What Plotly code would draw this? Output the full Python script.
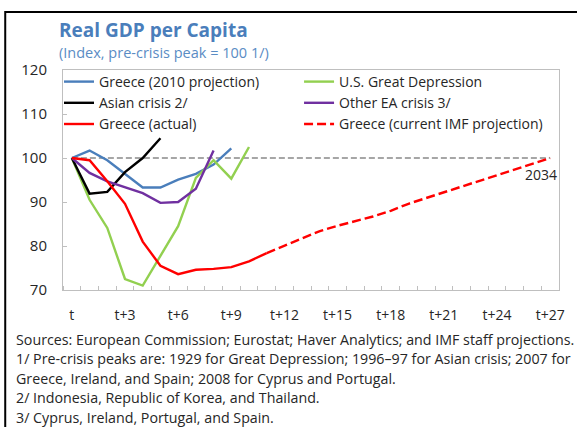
import plotly.graph_objects as go

# ---------------- data ----------------
periods = list(range(28))  # t .. t+27
tick_positions = [0, 3, 6, 9, 12, 15, 18, 21, 24, 27]
tick_labels = ["t", "t+3", "t+6", "t+9", "t+12", "t+15", "t+18", "t+21", "t+24", "t+27"]
y_ticks = [70, 80, 90, 100, 110, 120]

greece_2010 = [100, 101.7, 99.5, 96.4, 93.3, 93.3, 95.1, 96.4, 98.5, 102.2]
us_depression = [100, 90.5, 84.1, 72.5, 71.0, 77.6, 84.5, 95.5, 99.5, 95.3, 102.5]
asian_crisis = [100, 91.9, 92.3, 96.8, 100.0, 104.5]
other_ea = [100, 96.6, 94.7, 93.3, 92.0, 89.8, 90.0, 93.0, 101.7]
greece_actual = [100, 99.5, 94.7, 89.6, 81.0, 75.5, 73.6, 74.6, 74.8, 75.2, 76.5, 78.4]
greece_proj_start = 11
greece_projection = [78.4, 80.1, 81.8, 83.4, 84.6, 85.6, 86.7, 88.0, 89.6, 90.9,
                     92.2, 93.5, 94.8, 96.1, 97.4, 98.7, 100.0]
peak_level = 100
peak_line = [peak_level for _ in periods]

title_text = "Real GDP per Capita"
subtitle_text = "(Index, pre-crisis peak = 100 1/)"
end_label = "2034"
footnotes = [
    "Sources: European Commission; Eurostat; Haver Analytics; and IMF staff projections.",
    "1/ Pre-crisis peaks are: 1929 for Great Depression; 1996\u201397 for Asian crisis; 2007 for",
    "Greece, Ireland, and Spain; 2008 for Cyprus and Portugal.",
    "2/ Indonesia, Republic of Korea, and Thailand.",
    "3/ Cyprus, Ireland, Portugal, and Spain.",
]

# ---------------- figure ----------------
W, H = 577, 427
ML, MR, MT, MB = 63, 16, 70, 137
PW, PH = W - ML - MR, H - MT - MB
FONT = "Open Sans"
TXT = "#262626"


def px_x(px):
    return (px - ML) / PW


def px_y(py):
    return (H - MB - py) / PH


fig = go.Figure()

fig.add_trace(go.Scatter(x=periods, y=peak_line, mode="lines", showlegend=False,
                         line=dict(color="#A6A6A6", width=1.8, dash="6px,3px"),
                         hoverinfo="skip"))

series = [
    ("Greece (2010 projection)", periods[:len(greece_2010)], greece_2010, "#4A7EBB", "solid", "legend"),
    ("U.S. Great Depression", periods[:len(us_depression)], us_depression, "#92D050", "solid", "legend2"),
    ("Asian crisis 2/", periods[:len(asian_crisis)], asian_crisis, "#000000", "solid", "legend"),
    ("Other EA crisis 3/", periods[:len(other_ea)], other_ea, "#7030A0", "solid", "legend2"),
    ("Greece (actual)", periods[:len(greece_actual)], greece_actual, "#FF0000", "solid", "legend"),
    ("Greece (current IMF projection)",
     periods[greece_proj_start:greece_proj_start + len(greece_projection)],
     greece_projection, "#FF0000", "9px,4px", "legend2"),
]
for name, xs, ys, color, dash, leg in series:
    fig.add_trace(go.Scatter(x=xs, y=ys, mode="lines", name=name, legend=leg,
                             line=dict(color=color, width=2.4, dash=dash)))

legend_style = dict(orientation="v", yanchor="top", xanchor="left",
                    font=dict(family=FONT, size=14, color=TXT),
                    bgcolor="rgba(0,0,0,0)", borderwidth=0, itemwidth=30,
                    tracegroupgap=0)

fig.update_layout(
    width=W, height=H,
    margin=dict(l=ML, r=MR, t=MT, b=MB, pad=0),
    paper_bgcolor="white", plot_bgcolor="white",
    font=dict(family=FONT, size=14, color=TXT),
    showlegend=True,
    legend=dict(x=px_x(59), y=px_y(66), **legend_style),
    legend2=dict(x=px_x(300), y=px_y(66), **legend_style),
    xaxis=dict(range=[-0.5, 27.5], tickmode="array", tickvals=tick_positions,
               ticktext=tick_labels, ticks="", showgrid=False, zeroline=False,
               showline=True, linecolor="#BFBFBF", linewidth=1, mirror=True,
               tickfont=dict(family=FONT, size=14, color=TXT), ticklabelstandoff=12,
               minor=dict(tickmode="linear", tick0=0.5, dtick=1, ticks="inside",
                          ticklen=4, tickcolor="#BFBFBF", showgrid=False)),
    yaxis=dict(range=[70, 120], tickmode="array", tickvals=y_ticks,
               ticks="inside", ticklen=4, tickcolor="#BFBFBF", showgrid=False,
               zeroline=False, showline=True, linecolor="#BFBFBF", linewidth=1,
               mirror=True, tickfont=dict(family=FONT, size=15, color=TXT),
               ticklabelstandoff=12),
)

# outer frame
fig.add_shape(type="rect", xref="paper", yref="paper",
              x0=px_x(5), x1=px_x(590), y0=px_y(460), y1=px_y(12),
              line=dict(color="#000000", width=2), layer="below")

annotations = [
    dict(text="<b>" + title_text + "</b>", x=px_x(57), y=px_y(30), xanchor="left",
         yanchor="middle", font=dict(family=FONT, size=19, color="#4A7EBB")),
    dict(text=subtitle_text, x=px_x(57), y=px_y(53), xanchor="left",
         yanchor="middle", font=dict(family=FONT, size=14.5, color="#5A8CC4")),
]
foot_y = [339, 358.5, 378, 397.5, 417]
for line, yy in zip(footnotes, foot_y):
    annotations.append(dict(text=line, x=px_x(14), y=px_y(yy), xanchor="left",
                            yanchor="middle", font=dict(family=FONT, size=14.25, color=TXT)))
for a in annotations:
    a.update(xref="paper", yref="paper", showarrow=False)
    fig.add_annotation(**a)

fig.add_annotation(text=end_label, x=27.5, y=96.2, xref="x", yref="y", xanchor="right",
                   yanchor="middle", showarrow=False,
                   font=dict(family=FONT, size=14, color=TXT))

fig.write_html("out.html", config={"displayModeBar": False},
               post_script="document.body.style.margin='0';")
